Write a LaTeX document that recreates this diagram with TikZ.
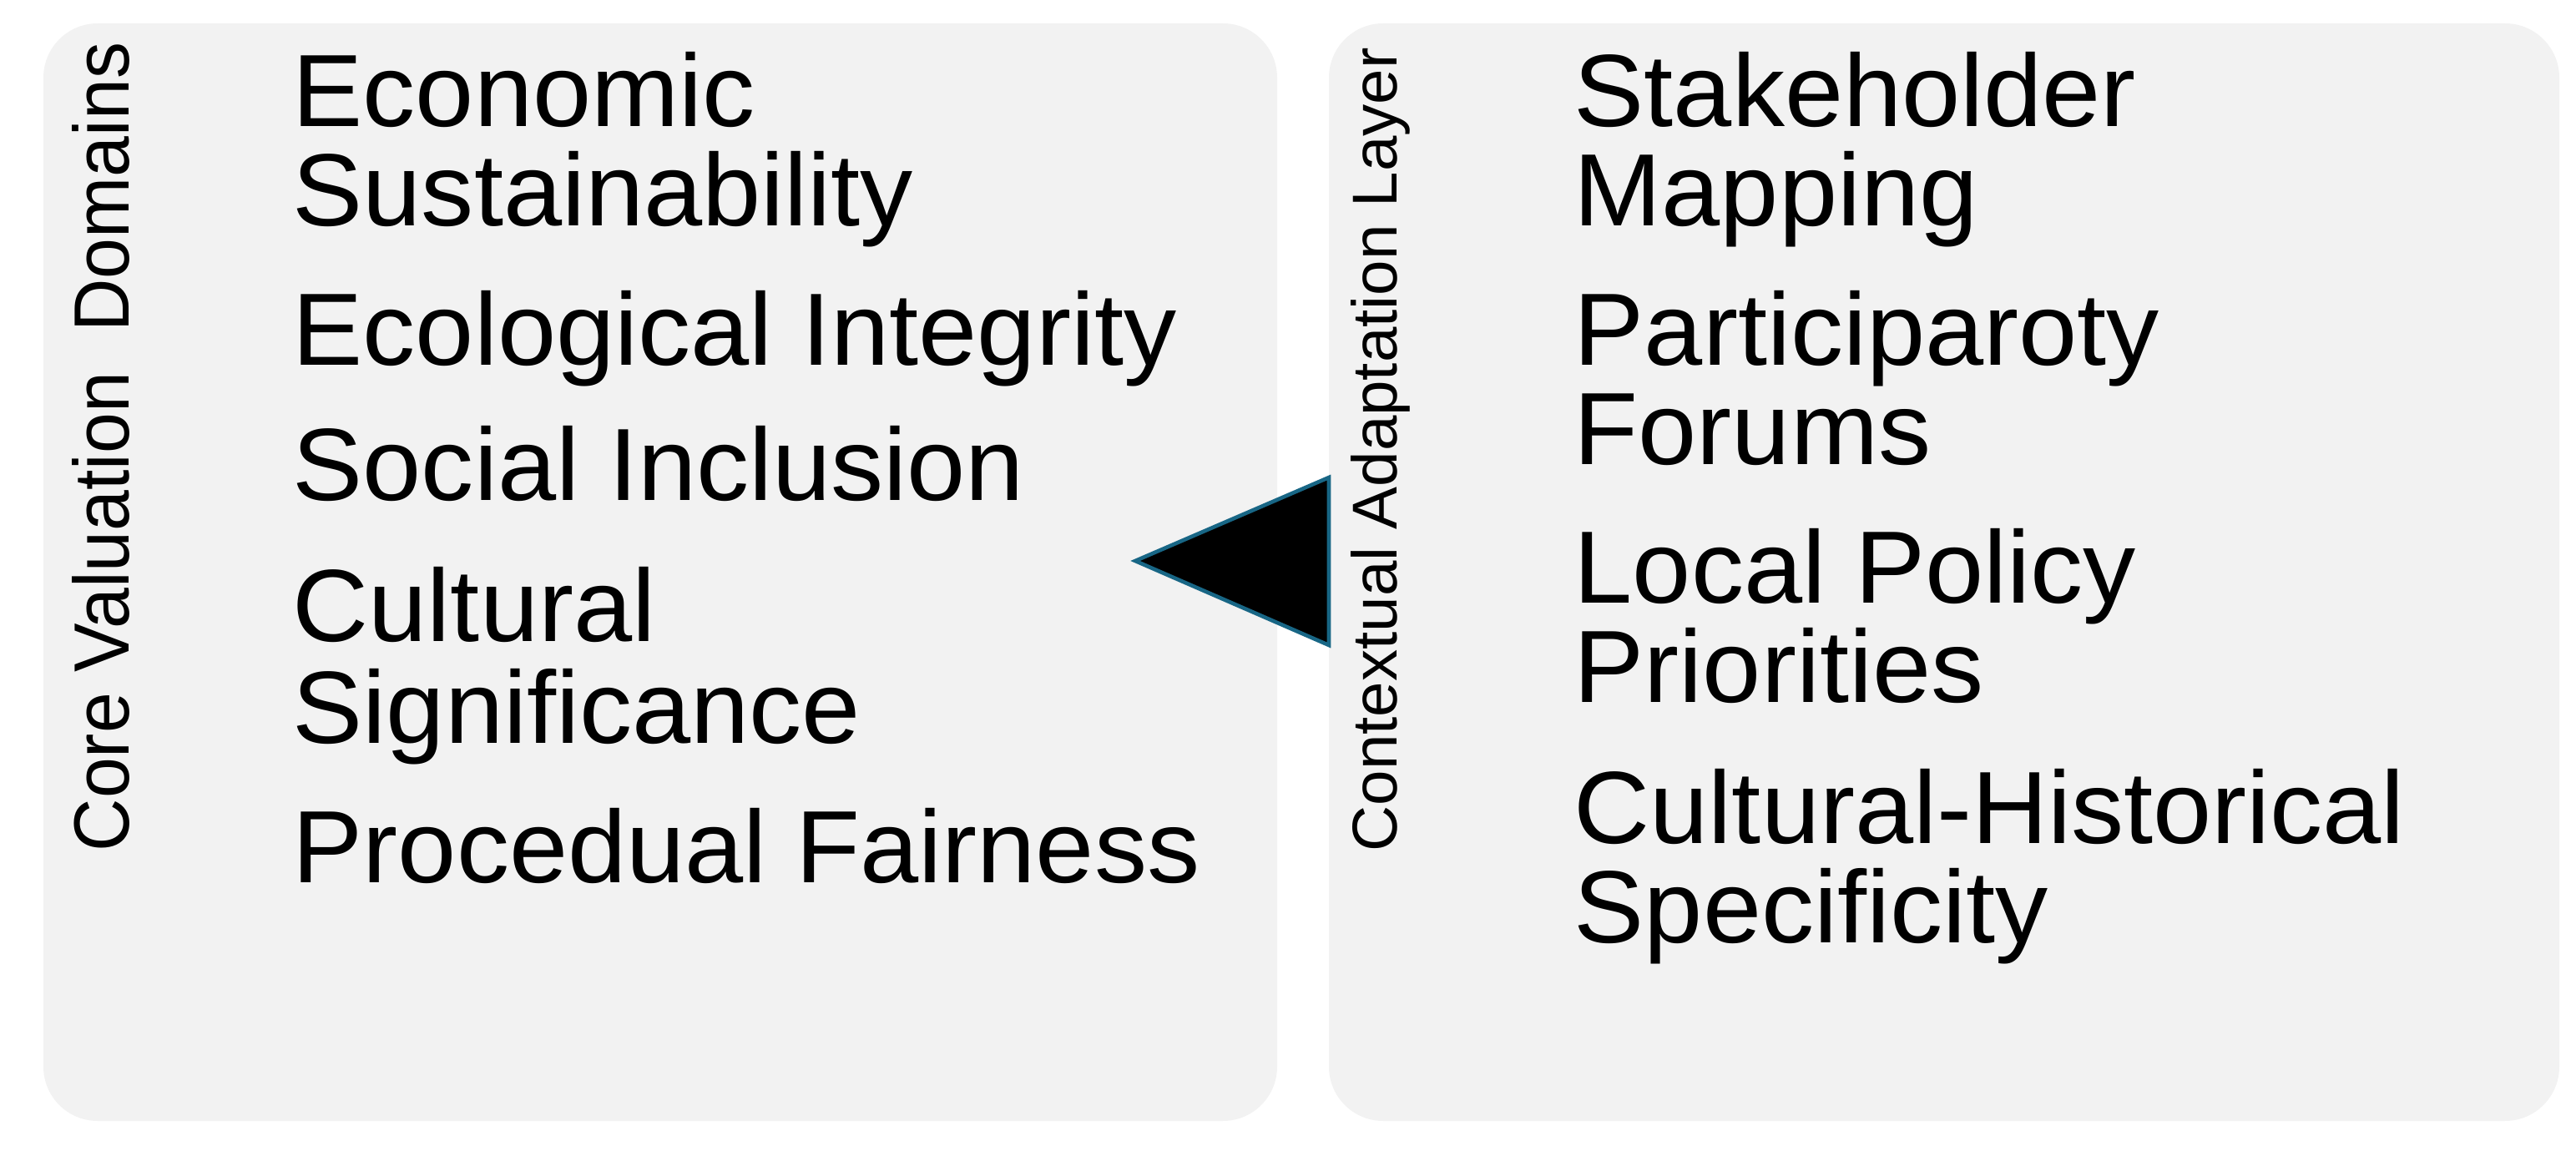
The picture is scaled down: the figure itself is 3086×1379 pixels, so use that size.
\documentclass[tikz,border=0pt]{standalone}
\usepackage{fontspec}
\setmainfont{Liberation Sans}
\newfontfamily\itemfont[FakeStretch=1.025]{Liberation Sans}
\newfontfamily\corefont[FakeStretch=0.935]{Liberation Sans}
\newfontfamily\ctxfont[FakeStretch=1.005]{Liberation Sans}
\definecolor{boxgray}{RGB}{242,242,242}
\definecolor{tealedge}{RGB}{24,102,133}
\begin{document}
\begin{tikzpicture}[x=0.01cm,y=-0.01cm,
  itemtext/.style={anchor=base west,inner sep=0pt,font=\itemfont\fontsize{35pt}{34pt}\selectfont},
  corelabel/.style={anchor=base west,inner sep=0pt,rotate=90,font=\corefont\fontsize{26.7pt}{28pt}\selectfont},
  ctxlabel/.style={anchor=base west,inner sep=0pt,rotate=90,font=\ctxfont\fontsize{21.6pt}{24pt}\selectfont}]
\useasboundingbox (0,0) rectangle (3086,1379);
% panels
\path[fill=boxgray,rounded corners=0.65cm] (52,28) rectangle (1530,1343);
\node[inner sep=0pt,minimum width=14.78cm,minimum height=13.15cm] (lbox) at (791,685.5) {};
\path[fill=boxgray,rounded corners=0.65cm] (1592,28) rectangle (3066,1343);
\node[inner sep=0pt,minimum width=14.74cm,minimum height=13.15cm] (rbox) at (2329,685.5) {};
% vertical labels
\node[corelabel] (corel) at (154,1021) {Core Valuation\ \ Domains};
\node[ctxlabel] (ctxl) at (1673,1021) {Contextual Adaptation Layer};
% left items
\node[itemtext] (l1a) at (350,152) {Economic};
\node[itemtext] (l1b) at (350,271) {Sustainability};
\node[itemtext] (l2) at (350,437) {Ecological Integrity};
\node[itemtext] (l3) at (350,600) {Social Inclusion};
\node[itemtext] (l4a) at (350,768) {Cultural};
\node[itemtext] (l4b) at (350,890) {Significance};
\node[itemtext] (l5) at (350,1057) {Procedual Fairness};
% right items
\node[itemtext] (r1a) at (1885,152) {Stakeholder};
\node[itemtext] (r1b) at (1885,271) {Mapping};
\node[itemtext] (r2a) at (1885,437) {Participaroty};
\node[itemtext] (r2b) at (1885,556) {Forums};
\node[itemtext] (r3a) at (1885,722) {Local Policy};
\node[itemtext] (r3b) at (1885,841) {Priorities};
\node[itemtext] (r4a) at (1885,1010) {Cultural-Historical};
\node[itemtext] (r4b) at (1885,1129) {Specificity};
% arrow triangle
\coordinate (tip) at (1360,672);
\coordinate (ttop) at (1592,572);
\coordinate (tbot) at (1592,773);
\draw[fill=black,draw=tealedge,line width=1.3pt,line join=miter] (tip) -- (ttop) -- (tbot) -- cycle;
\end{tikzpicture}
\end{document}
